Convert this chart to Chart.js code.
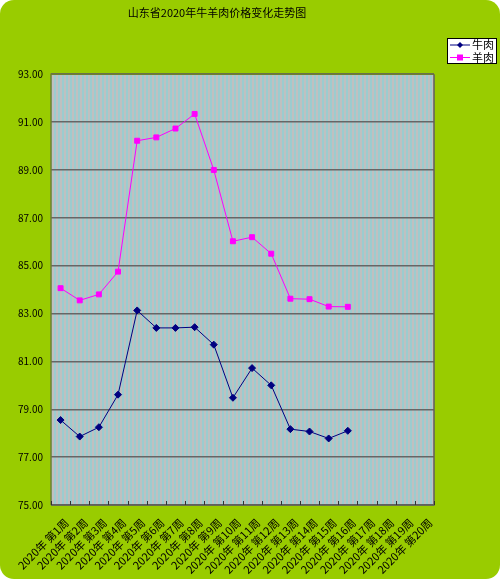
<!DOCTYPE html>
<html>
<head>
<meta charset="utf-8">
<script src="https://cdn.jsdelivr.net/npm/chart.js@4/dist/chart.umd.min.js"></script>
<style>
  html, body { margin: 0; padding: 0; background: #ffffff; }
  #wrap { width: 500px; height: 579px; background: #99cc00; border-radius: 14px; overflow: hidden; }
  canvas { display: block; }
</style>
</head>
<body>
<div id="wrap"><canvas id="chart" width="500" height="579"></canvas></div>
<script>
// 数据
const weeks = ['2020年 第1周', '2020年 第2周', '2020年 第3周', '2020年 第4周', '2020年 第5周',
  '2020年 第6周', '2020年 第7周', '2020年 第8周', '2020年 第9周', '2020年 第10周',
  '2020年 第11周', '2020年 第12周', '2020年 第13周', '2020年 第14周', '2020年 第15周',
  '2020年 第16周', '2020年 第17周', '2020年 第18周', '2020年 第19周', '2020年 第20周'];
const beef = [78.55, 77.86, 78.25, 79.61, 83.13, 82.40, 82.40, 82.43, 81.70, 79.48,
  80.72, 80.00, 78.17, 78.07, 77.78, 78.10];
const mutton = [84.06, 83.55, 83.80, 84.75, 90.22, 90.36, 90.73, 91.34, 89.00, 86.02,
  86.19, 85.50, 83.62, 83.60, 83.29, 83.28];
const yTicks = [75, 77, 79, 81, 83, 85, 87, 89, 91, 93];

const cjk = '"Noto Sans CJK SC", "DejaVu Sans", sans-serif';

// 绘图区条纹底纹
function makeStripes() {
  const c = document.createElement('canvas');
  c.width = 4; c.height = 1;
  const g = c.getContext('2d');
  g.fillStyle = '#c0c0c0'; g.fillRect(0, 0, 2, 1);
  g.fillStyle = '#9ccccf'; g.fillRect(2, 0, 2, 1);
  return g.createPattern(c, 'repeat');
}

const plotDecor = {
  id: 'plotDecor',
  beforeDraw(chart) {
    const { ctx, chartArea: a } = chart;
    ctx.save();
    ctx.fillStyle = makeStripes();
    ctx.fillRect(a.left, a.top, a.right - a.left, a.bottom - a.top);
    ctx.restore();
  },
  afterDraw(chart) {
    const { ctx, chartArea: a, scales } = chart;
    ctx.save();
    // 边框
    ctx.lineWidth = 1.5;
    ctx.strokeStyle = '#6f7f30';
    ctx.beginPath();
    ctx.moveTo(a.left, a.bottom); ctx.lineTo(a.left, a.top); ctx.lineTo(a.right, a.top);
    ctx.stroke();
    ctx.strokeStyle = '#5f5f5f';
    ctx.beginPath();
    ctx.moveTo(a.right, a.top); ctx.lineTo(a.right, a.bottom); ctx.lineTo(a.left, a.bottom);
    ctx.stroke();
    // x 轴刻度线（朝内）
    ctx.lineWidth = 1;
    ctx.strokeStyle = '#333';
    for (let i = 0; i <= weeks.length; i++) {
      const x = Math.round(scales.x.getPixelForValue(i - 0.5)) + 0.5;
      ctx.beginPath();
      ctx.moveTo(x, a.bottom); ctx.lineTo(x, a.bottom - 4);
      ctx.stroke();
    }
    // 图例
    const lx = a.right + 13, ly = 38, lw = 50, lh = 26;
    ctx.fillStyle = '#fff';
    ctx.fillRect(lx, ly, lw, lh);
    ctx.strokeStyle = '#000';
    ctx.strokeRect(lx + 0.5, ly + 0.5, lw - 1, lh - 1);
    chart.data.datasets.forEach((ds, i) => {
      const y = ly + 7 + i * 12.5;
      ctx.strokeStyle = ds.borderColor;
      ctx.lineWidth = 1;
      ctx.beginPath();
      ctx.moveTo(lx + 3, y); ctx.lineTo(lx + 23, y);
      ctx.stroke();
      ctx.fillStyle = ds.borderColor;
      ctx.beginPath();
      if (ds.pointStyle === 'rectRot') {
        ctx.moveTo(lx + 13, y - 3); ctx.lineTo(lx + 16, y); ctx.lineTo(lx + 13, y + 3); ctx.lineTo(lx + 10, y);
      } else {
        ctx.rect(lx + 10, y - 3, 6, 6);
      }
      ctx.fill();
      ctx.fillStyle = '#000';
      ctx.font = '11px ' + cjk;
      ctx.textBaseline = 'middle';
      ctx.textAlign = 'left';
      ctx.fillText(ds.label, lx + 25, y);
    });
    ctx.restore();
  }
};

const ctx = document.getElementById('chart').getContext('2d');
new Chart(ctx, {
  type: 'line',
  data: {
    labels: weeks,
    datasets: [{
      label: '牛肉',
      data: beef,
      borderColor: '#000080',
      backgroundColor: '#000080',
      borderWidth: 1,
      pointStyle: 'rectRot',
      pointRadius: 3.5,
      tension: 0
    }, {
      label: '羊肉',
      data: mutton,
      borderColor: '#ff00ff',
      backgroundColor: '#ff00ff',
      borderWidth: 1,
      pointStyle: 'rect',
      pointRadius: 3.5,
      tension: 0
    }]
  },
  options: {
    responsive: false,
    animation: false,
    devicePixelRatio: 1,
    layout: { padding: { left: 0, right: 66, top: 0, bottom: 0 } },
    plugins: {
      legend: { display: false },
      tooltip: { enabled: false },
      title: {
        display: true,
        text: '山东省2020年牛羊肉价格变化走势图',
        color: '#000',
        font: { size: 11, family: cjk, weight: 'normal' },
        padding: { top: 6, bottom: 55 }
      }
    },
    scales: {
      x: {
        offset: true,
        grid: { display: false, offset: true },
        border: { display: false },
        ticks: {
          autoSkip: false,
          minRotation: 45,
          maxRotation: 45,
          color: '#000',
          padding: 3,
          labelOffset: 6,
          font: { size: 11, family: cjk }
        },
        afterFit(scale) { scale.height = 74; }
      },
      y: {
        min: 75,
        max: 93,
        afterBuildTicks(scale) { scale.ticks = yTicks.map(v => ({ value: v })); },
        grid: { color: '#666', lineWidth: 1.5, drawTicks: false },
        border: { display: false },
        ticks: {
          color: '#000',
          padding: 8,
          font: { size: 10, family: cjk },
          callback: v => v.toFixed(2)
        },
        afterFit(scale) { scale.width = 51; }
      }
    }
  },
  plugins: [plotDecor]
});
</script>
</body>
</html>
